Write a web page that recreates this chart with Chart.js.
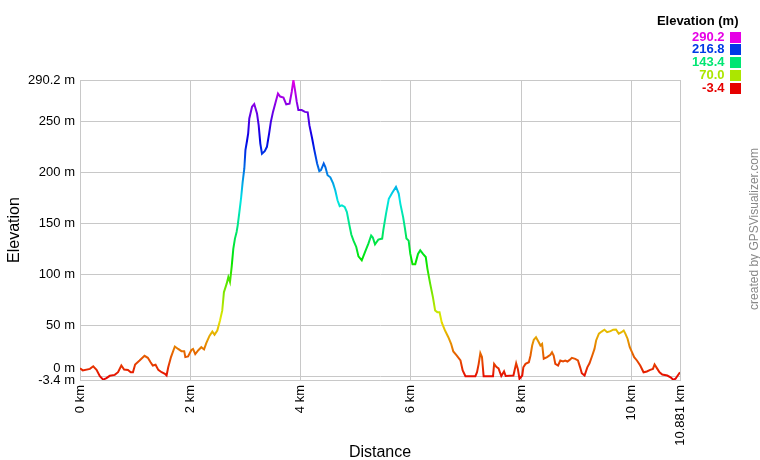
<!doctype html>
<html lang="en">
<head>
  <meta charset="utf-8" />
  <title>Elevation profile</title>
  <style>
    html, body { margin: 0; padding: 0; background: #fff; }
    #wrap { width: 760px; height: 460px; }
  </style>
</head>
<body>
  <div id="wrap">
    <canvas id="profileChart" width="760" height="460"></canvas>
  </div>
<script src="https://cdn.jsdelivr.net/npm/chart.js@4.4.1/dist/chart.umd.min.js"></script>
<script>
  // profile (km, m)
  const distanceKm = [
    0.00, 0.05, 0.18, 0.24, 0.30, 0.36, 0.42, 0.48, 0.54, 0.63, 0.69, 0.75, 0.80, 0.87, 0.92, 0.96,
    1.00, 1.08, 1.17, 1.23, 1.28, 1.32, 1.37, 1.42, 1.48, 1.54, 1.57, 1.60, 1.65, 1.72, 1.78, 1.84,
    1.89, 1.91, 1.96, 2.02, 2.05, 2.09, 2.15, 2.20, 2.25, 2.29, 2.35, 2.40, 2.44, 2.49, 2.54, 2.58,
    2.61, 2.66, 2.69, 2.72, 2.75, 2.78, 2.81, 2.84, 2.86, 2.89, 2.92, 2.95, 2.98, 3.00, 3.03, 3.05,
    3.07, 3.12, 3.16, 3.21, 3.24, 3.27, 3.30, 3.35, 3.39, 3.43, 3.46, 3.50, 3.54, 3.59, 3.63, 3.69,
    3.74, 3.80, 3.84, 3.87, 3.90, 3.93, 3.96, 4.02, 4.08, 4.13, 4.16, 4.21, 4.25, 4.30, 4.34, 4.37,
    4.42, 4.45, 4.49, 4.54, 4.59, 4.63, 4.67, 4.71, 4.75, 4.80, 4.84, 4.88, 4.92, 4.96, 5.01, 5.05,
    5.11, 5.17, 5.23, 5.28, 5.31, 5.35, 5.41, 5.48, 5.50, 5.55, 5.60, 5.66, 5.73, 5.78, 5.81, 5.86,
    5.89, 5.92, 5.96, 5.99, 6.03, 6.08, 6.13, 6.17, 6.22, 6.27, 6.30, 6.35, 6.40, 6.44, 6.48, 6.52,
    6.56, 6.62, 6.68, 6.73, 6.77, 6.83, 6.90, 6.94, 6.99, 7.17, 7.20, 7.23, 7.26, 7.29, 7.32, 7.49,
    7.51, 7.55, 7.59, 7.64, 7.69, 7.72, 7.86, 7.91, 7.94, 7.97, 8.02, 8.04, 8.08, 8.14, 8.17, 8.20,
    8.23, 8.27, 8.32, 8.35, 8.38, 8.41, 8.47, 8.53, 8.56, 8.59, 8.62, 8.67, 8.71, 8.76, 8.80, 8.84,
    8.88, 8.92, 8.98, 9.03, 9.07, 9.10, 9.15, 9.20, 9.24, 9.29, 9.33, 9.36, 9.41, 9.46, 9.51, 9.56,
    9.62, 9.67, 9.72, 9.77, 9.82, 9.86, 9.89, 9.93, 9.97, 10.01, 10.05, 10.10, 10.16, 10.22, 10.28, 10.34,
    10.39, 10.42, 10.47, 10.51, 10.56, 10.65, 10.71, 10.76, 10.80, 10.84, 10.881
  ];
  const elevationM = [
    8, 6, 7.5, 10, 6.5, 0.3, -3, -1.6, 0.7, 1.6, 4.2, 10.8, 6.9, 6.5, 4.2, 4.2,
    11.8, 15.7, 20.3, 18.3, 14, 10.8, 11.5, 6.5, 4.2, 2.6, 1, 9, 19, 29.4, 27, 24.8,
    24.8, 19, 19.6, 26, 27, 22, 26, 28.7, 26.5, 32.6, 40, 44, 41, 45, 55, 64.7,
    82.6, 90.9, 97.4, 92.5, 107, 125, 135, 141.5, 148, 161, 174, 190.5, 203.6, 221.6, 231, 238,
    252.6, 264, 266.7, 257.5, 246, 228, 218, 220.6, 224.8, 238, 249, 259, 267, 277, 274, 273,
    266.4, 267, 278.7, 290.2, 280, 269, 260.8, 260.8, 259, 258.5, 246, 233, 221.6, 208.5, 201, 202,
    208.5, 205, 197, 195, 189, 182, 172.5, 166.7, 167.6, 166, 161, 149.7, 139, 133, 126.8, 117.6,
    113.7, 121.9, 130, 138, 136, 129.4, 134, 135, 143, 159.5, 174, 179.7, 185.6, 179, 169, 156,
    146, 135, 133, 120, 110, 110, 120, 123.5, 120, 117, 105.6, 90.9, 77.7, 64.7, 63, 63,
    53, 45, 38.5, 32, 24.5, 20.6, 15.7, 5.9, 0.3, 0.3, 4.2, 12.4, 22.8, 19, 0.3, 0.3,
    12.4, 9.5, 8, 0.5, 5, 0.5, 1, 13, 7.5, -2.2, 1, 9, 12.4, 14, 20.6, 30.4,
    36, 38.5, 33.6, 30.4, 32, 17.4, 19, 21.3, 23.8, 20.6, 12.4, 10.8, 15.7, 14.7, 15.7, 14.7,
    16.3, 18.3, 17.3, 15.7, 9, 3.2, 1, 9, 13, 20.6, 27, 35.3, 42, 44, 45.8, 43.4,
    44.4, 45.8, 46, 42, 43.4, 45, 42, 37, 28.7, 23.8, 19, 15.7, 10.8, 4.2, 4.9, 6.5,
    7.5, 11.8, 7.5, 4.2, 2, 1, -0.7, -3.2, -2.2, 1, 4.2
  ];

  const xTicks = [0, 2, 4, 6, 8, 10, 10.881];
  const yTicks = [-3.4, 0, 50, 100, 150, 200, 250, 290.2];
  const legendValues = [290.2, 216.8, 143.4, 70.0, -3.4];

  const elevMin = -3.4;
  const elevMax = 290.2;

  // red at the bottom, magenta at the top
  function elevColor(v) {
    let h = 300 * (v - elevMin) / (elevMax - elevMin);
    return `hsl(${h}, 100%, 45%)`;
  }

  Chart.defaults.font.family = 'Arial, "Liberation Sans", sans-serif';
  Chart.defaults.color = '#000';

  const legendPlugin = {
    id: 'elevLegend',
    beforeDraw(chart) {
      let c = chart.ctx;
      c.save();
      c.fillStyle = '#fff';
      c.fillRect(0, 0, chart.width, chart.height);
      c.restore();
    },
    afterDraw(chart) {
      let c = chart.ctx;
      c.save();
      c.textBaseline = 'middle';
      c.textAlign = 'right';
      c.font = 'bold 13px Arial, "Liberation Sans", sans-serif';
      c.fillStyle = '#000';
      c.fillText('Elevation (m)', 738.5, 21);
      legendValues.forEach((v, i) => {
        let y = 37 + i * 12.75;
        c.fillStyle = elevColor(v);
        c.fillText(v.toFixed(1), 724.5, y);
        c.fillRect(730, Math.round(y - 5.5), 11, 11);
      });
      // credit line
      c.translate(755, 229);
      c.rotate(-Math.PI / 2);
      c.textAlign = 'center';
      c.font = '12px Arial, "Liberation Sans", sans-serif';
      c.fillStyle = '#888';
      c.fillText('created by GPSVisualizer.com', 0, 0);
      c.restore();
    }
  };

  const gridColor = '#c8c8c8';

  const ctx = document.getElementById('profileChart').getContext('2d');
  const chart = new Chart(ctx, {
    type: 'line',
    data: {
      datasets: [{
        data: distanceKm.map((d, i) => ({ x: d, y: elevationM[i] })),
        borderWidth: 2,
        pointRadius: 0,
        tension: 0,
        fill: false,
        borderColor: function(context) {
          let ch = context.chart;
          if (!ch.chartArea) return elevColor(0);
          let y0 = ch.scales.y.getPixelForValue(elevMin);
          let y1 = ch.scales.y.getPixelForValue(elevMax);
          let g = ch.ctx.createLinearGradient(0, y0, 0, y1);
          for (let i = 0; i <= 20; i++) {
            g.addColorStop(i / 20, `hsl(${300 * i / 20}, 100%, 45%)`);
          }
          return g;
        }
      }]
    },
    options: {
      responsive: false,
      animation: false,
      layout: { padding: { top: 80, right: 80, left: 0, bottom: 0 } },
      plugins: {
        legend: { display: false },
        tooltip: { enabled: false }
      },
      scales: {
        x: {
          type: 'linear',
          min: 0,
          max: 10.881,
          afterBuildTicks: s => { s.ticks = xTicks.map(v => ({ value: v })); },
          afterFit: s => { s.height = 80; },
          grid: { color: gridColor, drawTicks: false },
          border: { color: gridColor },
          ticks: {
            autoSkip: false,
            minRotation: 90,
            maxRotation: 90,
            padding: 5,
            font: { size: 13 },
            callback: v => v + ' km'
          },
          title: { display: true, text: 'Distance', font: { size: 16 }, padding: { top: 0, bottom: -2 } }
        },
        y: {
          type: 'linear',
          min: elevMin,
          max: elevMax,
          afterBuildTicks: s => { s.ticks = yTicks.map(v => ({ value: v })); },
          afterFit: s => { s.width = 80; },
          grid: { color: gridColor, drawTicks: false },
          border: { color: gridColor },
          ticks: {
            autoSkip: false,
            padding: 5,
            font: { size: 13 },
            // the 0 m label sits a bit higher so it clears -3.4 m
            callback: v => v === 0 ? ['0 m', ''] : v + ' m'
          },
          title: { display: true, text: 'Elevation', font: { size: 16 }, padding: { top: 5 } }
        }
      }
    },
    plugins: [legendPlugin]
  });
</script>
</body>
</html>
